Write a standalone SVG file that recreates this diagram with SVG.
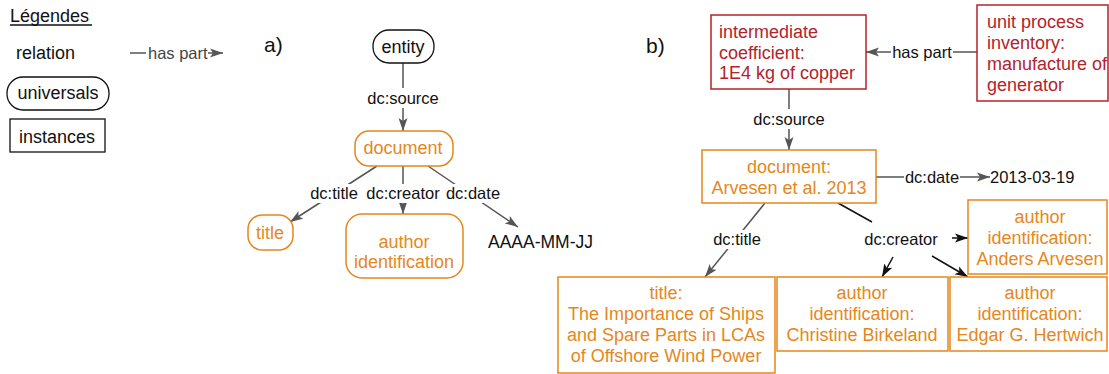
<svg xmlns="http://www.w3.org/2000/svg" width="1109" height="374" viewBox="0 0 1109 374">
<style>
text{font-family:"Liberation Sans",Arial,sans-serif;}
.t{font-size:18px;fill:#111;}
.o{font-size:18px;fill:#e5871c;}
.r{font-size:18px;fill:#b5222a;}
.lb{font-size:16.5px;fill:#111;}
.c{text-anchor:middle;}
.uni{fill:#fff;stroke:#111;stroke-width:1.3;}
.uo{fill:#fff;stroke:#e5871c;stroke-width:1.5;}
.io{fill:#fff;stroke:#e5871c;stroke-width:1.5;}
.ir{fill:#fff;stroke:#b5222a;stroke-width:1.5;}
.ln{stroke:#555;stroke-width:1.5;fill:none;}
.lk{stroke:#111;stroke-width:1.5;fill:none;}
.bg{fill:#fff;}
</style>
<defs>
<marker id="ag" markerUnits="userSpaceOnUse" markerWidth="14" markerHeight="10" refX="13" refY="5" orient="auto">
<path d="M0,0.5 L13,5 L0,9.5 L3,5 z" fill="#555"/>
</marker>
<marker id="ak" markerUnits="userSpaceOnUse" markerWidth="14" markerHeight="10" refX="13" refY="5" orient="auto">
<path d="M0,0.5 L13,5 L0,9.5 L3,5 z" fill="#111"/>
</marker>
</defs>

<g id="legend">
<text class="t" x="10" y="22">Légendes</text>
<line x1="10" y1="25" x2="92" y2="25" stroke="#111" stroke-width="1.3"/>
<text class="t" x="16" y="59">relation</text>
<line class="ln" x1="130" y1="53" x2="146" y2="53"/>
<text class="lb" x="148" y="59" style="fill:#444">has part</text>
<line class="ln" x1="208" y1="53" x2="223" y2="53" marker-end="url(#ag)"/>
<rect class="uni" x="7" y="77" width="102" height="33" rx="16"/>
<text class="t c" x="58" y="99">universals</text>
<rect class="uni" x="10" y="119" width="95" height="33"/>
<text class="t c" x="57" y="143">instances</text>
</g>

<text id="label-a" x="264" y="52" style="font-size:21px;fill:#111">a)</text>
<text id="label-b" x="646" y="53" style="font-size:21px;fill:#111">b)</text>

<g id="connectors">
<line class="ln" x1="403" y1="63" x2="403" y2="131" marker-end="url(#ag)"/>
<rect class="bg" x="366" y="88" width="74" height="20"/>
<text class="lb c" x="403" y="104">dc:source</text>
<line class="ln" x1="377" y1="166" x2="290" y2="222" marker-end="url(#ag)"/>
<line class="ln" x1="403" y1="166" x2="403" y2="214" marker-end="url(#ag)"/>
<line class="ln" x1="428" y1="166" x2="518" y2="227" marker-end="url(#ag)"/>
<rect class="bg" x="309" y="184" width="50" height="19"/>
<text class="lb c" x="334" y="199">dc:title</text>
<rect class="bg" x="364" y="184" width="78" height="19"/>
<text class="lb c" x="403" y="199">dc:creator</text>
<rect class="bg" x="446" y="184" width="54" height="19"/>
<text class="lb c" x="473" y="199">dc:date</text>
<line class="ln" x1="977" y1="52" x2="866" y2="52" marker-end="url(#ag)"/>
<rect class="bg" x="891" y="43" width="62" height="19"/>
<text class="lb c" x="922" y="58">has part</text>
<line class="ln" x1="789" y1="89" x2="789" y2="150" marker-end="url(#ag)"/>
<rect class="bg" x="752" y="109" width="74" height="20"/>
<text class="lb c" x="789" y="125">dc:source</text>
<line class="ln" x1="876" y1="177" x2="990" y2="177" marker-end="url(#ag)"/>
<rect class="bg" x="904" y="168" width="56" height="19"/>
<text class="lb c" x="932" y="183">dc:date</text>
<text class="lb" x="990" y="183">2013-03-19</text>
<line class="ln" x1="765" y1="203" x2="705" y2="277" marker-end="url(#ag)"/>
<rect class="bg" x="712" y="230" width="50" height="19"/>
<text class="lb c" x="737" y="245">dc:title</text>
<line class="lk" x1="838" y1="203" x2="872" y2="222"/>
<text class="lb c" x="901" y="245">dc:creator</text>
<line class="lk" x1="952" y1="238" x2="968" y2="238" marker-end="url(#ak)"/>
<line class="lk" x1="893" y1="257" x2="882" y2="277" marker-end="url(#ak)"/>
<line class="lk" x1="932" y1="256" x2="968" y2="277" marker-end="url(#ak)"/>
</g>

<g id="entity">
<rect class="uni" x="373" y="30" width="61" height="33" rx="16"/>
<text class="t c" x="403" y="53">entity</text>
</g>
<g id="document-a">
<rect class="uo" x="355" y="131" width="98" height="35" rx="14"/>
<text class="o c" x="403" y="154">document</text>
</g>
<g id="title-a">
<rect class="uo" x="248" y="215" width="45" height="35" rx="14"/>
<text class="o c" x="270" y="239">title</text>
</g>
<g id="author-a">
<rect class="uo" x="346" y="214" width="117" height="64" rx="16"/>
<text class="o c" x="404" y="248">author</text>
<text class="o c" x="404" y="268">identification</text>
</g>
<g id="date-a">
<text x="488" y="248" style="font-size:17.5px;fill:#111">AAAA-MM-JJ</text>
</g>

<g id="intermediate">
<rect class="ir" x="711" y="15" width="155" height="74"/>
<text class="r" x="719" y="38">intermediate</text>
<text class="r" x="719" y="59">coefficient:</text>
<text class="r" x="719" y="79">1E4 kg of copper</text>
</g>
<g id="unit-process">
<rect class="ir" x="977" y="5" width="131" height="96"/>
<text class="r" x="987" y="28">unit process</text>
<text class="r" x="987" y="49">inventory:</text>
<text class="r" x="987" y="70">manufacture of</text>
<text class="r" x="987" y="91">generator</text>
</g>
<g id="document-b">
<rect class="io" x="702" y="150" width="174" height="53"/>
<text class="o c" x="789" y="173">document:</text>
<text class="o c" x="789" y="194">Arvesen et al. 2013</text>
</g>
<g id="author-anders">
<rect class="io" x="968" y="200" width="139" height="74"/>
<text class="o c" x="1040" y="223">author</text>
<text class="o c" x="1040" y="244">identification:</text>
<text class="o c" x="1040" y="265">Anders Arvesen</text>
</g>
<g id="title-b">
<rect class="io" x="558" y="277" width="217" height="96"/>
<text class="o c" x="666" y="299">title:</text>
<text class="o c" x="666" y="320">The Importance of Ships</text>
<text class="o c" x="666" y="341">and Spare Parts in LCAs</text>
<text class="o c" x="666" y="362">of Offshore Wind Power</text>
</g>
<g id="author-christine">
<rect class="io" x="777" y="277" width="171" height="74"/>
<text class="o c" x="862" y="299">author</text>
<text class="o c" x="862" y="320">identification:</text>
<text class="o c" x="862" y="341">Christine Birkeland</text>
</g>
<g id="author-edgar">
<rect class="io" x="950" y="277" width="157" height="74"/>
<text class="o c" x="1030" y="299">author</text>
<text class="o c" x="1030" y="320">identification:</text>
<text class="o c" x="1030" y="341">Edgar G. Hertwich</text>
</g>
</svg>
